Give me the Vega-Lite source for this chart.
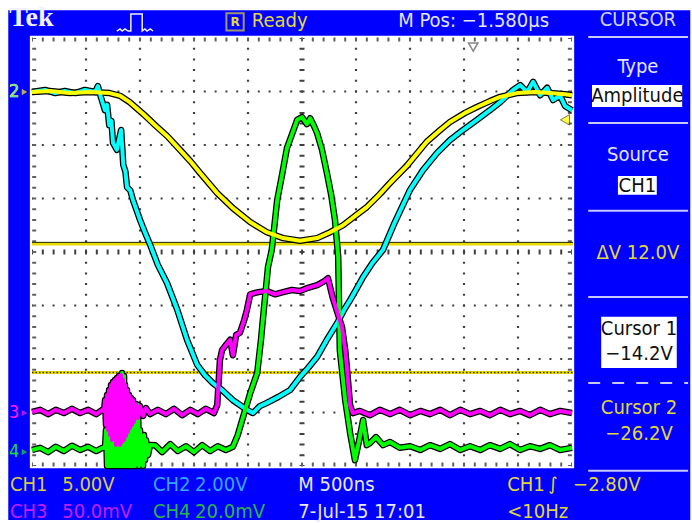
{
"$schema": "https://vega.github.io/schema/vega-lite/v6.json",
"width": 692, "height": 523,
"autosize": {"type": "fit", "contains": "padding"},
"padding": 0,
"background": "white",
"config": {"view": {"stroke": null}, "axis": {"disable": true}, "legend": {"disable": true}},
"data": {"values": [{}]},
"datasets": {
"grid": [{"g": -4}, {"g": -3}, {"g": -2}, {"g": -1}, {"g": 1}, {"g": 2}, {"g": 3}, {"g": 4}],
"gridh": [{"g": -3}, {"g": -2}, {"g": -1}, {"g": 1}, {"g": 2}, {"g": 3}],
"icon": [{"i":0,"t":-3.43,"v":4.13},{"i":1,"t":-3.37,"v":4.17},{"i":2,"t":-3.33,"v":4.13},{"i":3,"t":-3.28,"v":4.17},{"i":4,"t":-3.22,"v":4.13},{"i":5,"t":-3.17,"v":4.13},{"i":6,"t":-3.17,"v":4.45},{"i":7,"t":-2.96,"v":4.45},{"i":8,"t":-2.96,"v":4.13},{"i":9,"t":-2.91,"v":4.17},{"i":10,"t":-2.87,"v":4.13},{"i":11,"t":-2.81,"v":4.17},{"i":12,"t":-2.76,"v":4.13}],
"traces": [
{"c":"CH2","t":-5.00,"v":2.99},{"c":"CH2","t":-4.76,"v":3.03},{"c":"CH2","t":-4.57,"v":2.97},{"c":"CH2","t":-4.39,"v":3.01},{"c":"CH2","t":-4.20,"v":2.97},{"c":"CH2","t":-4.02,"v":3.03},{"c":"CH2","t":-3.83,"v":2.99},{"c":"CH2","t":-3.78,"v":3.10},{"c":"CH2","t":-3.72,"v":2.88},{"c":"CH2","t":-3.65,"v":2.65},{"c":"CH2","t":-3.61,"v":2.75},{"c":"CH2","t":-3.57,"v":2.37},{"c":"CH2","t":-3.53,"v":2.45},{"c":"CH2","t":-3.50,"v":2.04},{"c":"CH2","t":-3.43,"v":1.91},{"c":"CH2","t":-3.35,"v":2.28},{"c":"CH2","t":-3.31,"v":1.63},{"c":"CH2","t":-3.27,"v":1.50},{"c":"CH2","t":-3.24,"v":1.21},{"c":"CH2","t":-3.18,"v":1.15},{"c":"CH2","t":-3.13,"v":0.97},{"c":"CH2","t":-3.00,"v":0.60},{"c":"CH2","t":-2.91,"v":0.37},{"c":"CH2","t":-2.81,"v":0.13},{"c":"CH2","t":-2.67,"v":-0.24},{"c":"CH2","t":-2.50,"v":-0.58},{"c":"CH2","t":-2.31,"v":-1.08},{"c":"CH2","t":-2.13,"v":-1.64},{"c":"CH2","t":-1.94,"v":-2.11},{"c":"CH2","t":-1.80,"v":-2.30},{"c":"CH2","t":-1.65,"v":-2.45},{"c":"CH2","t":-1.48,"v":-2.58},{"c":"CH2","t":-1.28,"v":-2.77},{"c":"CH2","t":-1.15,"v":-2.86},{"c":"CH2","t":-1.02,"v":-2.95},{"c":"CH2","t":-0.91,"v":-3.01},{"c":"CH2","t":-0.78,"v":-2.88},{"c":"CH2","t":-0.65,"v":-2.82},{"c":"CH2","t":-0.44,"v":-2.71},{"c":"CH2","t":-0.22,"v":-2.58},{"c":"CH2","t":-0.04,"v":-2.34},{"c":"CH2","t":0.11,"v":-2.17},{"c":"CH2","t":0.28,"v":-1.96},{"c":"CH2","t":0.46,"v":-1.64},{"c":"CH2","t":0.65,"v":-1.33},{"c":"CH2","t":0.78,"v":-1.08},{"c":"CH2","t":0.89,"v":-0.90},{"c":"CH2","t":1.02,"v":-0.67},{"c":"CH2","t":1.13,"v":-0.47},{"c":"CH2","t":1.30,"v":-0.21},{"c":"CH2","t":1.50,"v":0.04},{"c":"CH2","t":1.72,"v":0.56},{"c":"CH2","t":2.00,"v":1.16},{"c":"CH2","t":2.24,"v":1.53},{"c":"CH2","t":2.50,"v":1.85},{"c":"CH2","t":2.74,"v":2.09},{"c":"CH2","t":2.98,"v":2.28},{"c":"CH2","t":3.24,"v":2.47},{"c":"CH2","t":3.48,"v":2.65},{"c":"CH2","t":3.67,"v":2.80},{"c":"CH2","t":3.91,"v":3.03},{"c":"CH2","t":4.04,"v":3.12},{"c":"CH2","t":4.17,"v":2.99},{"c":"CH2","t":4.28,"v":3.18},{"c":"CH2","t":4.41,"v":2.93},{"c":"CH2","t":4.54,"v":3.07},{"c":"CH2","t":4.65,"v":2.84},{"c":"CH2","t":4.78,"v":2.92},{"c":"CH2","t":4.87,"v":2.73},{"c":"CH2","t":5.00,"v":2.65},
{"c":"CH4","t":-5.00,"v":-3.70},{"c":"CH4","t":-4.85,"v":-3.66},{"c":"CH4","t":-4.70,"v":-3.74},{"c":"CH4","t":-4.56,"v":-3.64},{"c":"CH4","t":-4.41,"v":-3.72},{"c":"CH4","t":-4.26,"v":-3.62},{"c":"CH4","t":-4.11,"v":-3.70},{"c":"CH4","t":-3.96,"v":-3.64},{"c":"CH4","t":-3.81,"v":-3.72},{"c":"CH4","t":-3.70,"v":-3.66},
{"c":"CH4","t":-3.648,"v":-3.664},{"c":"CH4","t":-3.630,"v":-3.327},{"c":"CH4","t":-3.611,"v":-4.0},{"c":"CH4","t":-3.593,"v":-3.140},{"c":"CH4","t":-3.574,"v":-4.0},{"c":"CH4","t":-3.556,"v":-2.766},{"c":"CH4","t":-3.537,"v":-4.0},{"c":"CH4","t":-3.519,"v":-3.234},{"c":"CH4","t":-3.500,"v":-4.0},{"c":"CH4","t":-3.481,"v":-2.953},{"c":"CH4","t":-3.463,"v":-4.0},{"c":"CH4","t":-3.444,"v":-3.327},{"c":"CH4","t":-3.426,"v":-4.0},{"c":"CH4","t":-3.407,"v":-2.673},{"c":"CH4","t":-3.389,"v":-4.0},{"c":"CH4","t":-3.370,"v":-2.393},{"c":"CH4","t":-3.352,"v":-4.0},{"c":"CH4","t":-3.333,"v":-2.262},{"c":"CH4","t":-3.315,"v":-4.0},{"c":"CH4","t":-3.296,"v":-2.318},{"c":"CH4","t":-3.278,"v":-4.0},{"c":"CH4","t":-3.259,"v":-2.766},{"c":"CH4","t":-3.241,"v":-4.0},{"c":"CH4","t":-3.222,"v":-3.047},{"c":"CH4","t":-3.204,"v":-4.0},{"c":"CH4","t":-3.185,"v":-3.327},{"c":"CH4","t":-3.167,"v":-4.0},{"c":"CH4","t":-3.148,"v":-2.953},{"c":"CH4","t":-3.130,"v":-4.0},{"c":"CH4","t":-3.111,"v":-3.234},{"c":"CH4","t":-3.093,"v":-4.0},{"c":"CH4","t":-3.074,"v":-3.140},{"c":"CH4","t":-3.056,"v":-3.925},{"c":"CH4","t":-3.037,"v":-2.860},{"c":"CH4","t":-3.019,"v":-4.0},{"c":"CH4","t":-3.000,"v":-3.327},{"c":"CH4","t":-2.981,"v":-3.925},{"c":"CH4","t":-2.963,"v":-3.514},{"c":"CH4","t":-2.944,"v":-4.0},{"c":"CH4","t":-2.926,"v":-3.421},{"c":"CH4","t":-2.907,"v":-3.888},{"c":"CH4","t":-2.889,"v":-3.514},{"c":"CH4","t":-2.852,"v":-3.794},{"c":"CH4","t":-2.815,"v":-3.607},
{"c":"CH4","t":-2.72,"v":-3.61},{"c":"CH4","t":-2.59,"v":-3.74},{"c":"CH4","t":-2.44,"v":-3.59},{"c":"CH4","t":-2.30,"v":-3.72},{"c":"CH4","t":-2.15,"v":-3.63},{"c":"CH4","t":-2.00,"v":-3.74},{"c":"CH4","t":-1.85,"v":-3.61},{"c":"CH4","t":-1.70,"v":-3.72},{"c":"CH4","t":-1.56,"v":-3.63},{"c":"CH4","t":-1.41,"v":-3.70},{"c":"CH4","t":-1.28,"v":-3.64},{"c":"CH4","t":-1.19,"v":-3.42},{"c":"CH4","t":-1.09,"v":-3.08},{"c":"CH4","t":-0.96,"v":-2.64},{"c":"CH4","t":-0.83,"v":-2.26},{"c":"CH4","t":-0.76,"v":-1.64},{"c":"CH4","t":-0.72,"v":-1.21},{"c":"CH4","t":-0.63,"v":-0.28},{"c":"CH4","t":-0.56,"v":0.04},{"c":"CH4","t":-0.46,"v":0.97},{"c":"CH4","t":-0.37,"v":1.44},{"c":"CH4","t":-0.28,"v":1.94},{"c":"CH4","t":-0.19,"v":2.19},{"c":"CH4","t":-0.09,"v":2.47},{"c":"CH4","t":0.00,"v":2.52},{"c":"CH4","t":0.09,"v":2.39},{"c":"CH4","t":0.15,"v":2.50},{"c":"CH4","t":0.22,"v":2.36},{"c":"CH4","t":0.28,"v":2.22},{"c":"CH4","t":0.37,"v":1.91},{"c":"CH4","t":0.46,"v":1.48},{"c":"CH4","t":0.54,"v":1.07},{"c":"CH4","t":0.61,"v":0.60},{"c":"CH4","t":0.67,"v":-0.09},{"c":"CH4","t":0.70,"v":-1.83},{"c":"CH4","t":0.80,"v":-2.77},{"c":"CH4","t":0.89,"v":-3.38},{"c":"CH4","t":0.98,"v":-3.89},{"c":"CH4","t":1.06,"v":-3.51},{"c":"CH4","t":1.13,"v":-3.14},{"c":"CH4","t":1.20,"v":-3.61},{"c":"CH4","t":1.26,"v":-3.57},{"c":"CH4","t":1.37,"v":-3.46},{"c":"CH4","t":1.50,"v":-3.61},{"c":"CH4","t":1.63,"v":-3.55},{"c":"CH4","t":1.81,"v":-3.66},{"c":"CH4","t":2.00,"v":-3.63},{"c":"CH4","t":2.19,"v":-3.70},{"c":"CH4","t":2.37,"v":-3.61},{"c":"CH4","t":2.56,"v":-3.68},{"c":"CH4","t":2.74,"v":-3.59},{"c":"CH4","t":2.93,"v":-3.70},{"c":"CH4","t":3.11,"v":-3.63},{"c":"CH4","t":3.30,"v":-3.70},{"c":"CH4","t":3.48,"v":-3.61},{"c":"CH4","t":3.67,"v":-3.68},{"c":"CH4","t":3.85,"v":-3.59},{"c":"CH4","t":4.04,"v":-3.70},{"c":"CH4","t":4.22,"v":-3.63},{"c":"CH4","t":4.41,"v":-3.68},{"c":"CH4","t":4.59,"v":-3.61},{"c":"CH4","t":4.78,"v":-3.70},{"c":"CH4","t":5.00,"v":-3.66},
{"c":"CH3","t":-5.00,"v":-2.99},{"c":"CH3","t":-4.85,"v":-2.95},{"c":"CH3","t":-4.70,"v":-3.03},{"c":"CH3","t":-4.56,"v":-2.95},{"c":"CH3","t":-4.41,"v":-3.01},{"c":"CH3","t":-4.26,"v":-2.93},{"c":"CH3","t":-4.11,"v":-3.01},{"c":"CH3","t":-3.96,"v":-2.95},{"c":"CH3","t":-3.81,"v":-3.03},{"c":"CH3","t":-3.70,"v":-2.95},
{"c":"CH3","t":-3.667,"v":-2.972},{"c":"CH3","t":-3.648,"v":-2.766},{"c":"CH3","t":-3.630,"v":-3.234},{"c":"CH3","t":-3.611,"v":-2.673},{"c":"CH3","t":-3.593,"v":-3.327},{"c":"CH3","t":-3.574,"v":-2.579},{"c":"CH3","t":-3.556,"v":-3.421},{"c":"CH3","t":-3.537,"v":-2.486},{"c":"CH3","t":-3.519,"v":-3.514},{"c":"CH3","t":-3.500,"v":-2.430},{"c":"CH3","t":-3.481,"v":-3.477},{"c":"CH3","t":-3.463,"v":-2.393},{"c":"CH3","t":-3.444,"v":-3.607},{"c":"CH3","t":-3.426,"v":-2.355},{"c":"CH3","t":-3.407,"v":-3.514},{"c":"CH3","t":-3.389,"v":-2.318},{"c":"CH3","t":-3.370,"v":-3.607},{"c":"CH3","t":-3.352,"v":-2.299},{"c":"CH3","t":-3.333,"v":-3.551},{"c":"CH3","t":-3.315,"v":-2.393},{"c":"CH3","t":-3.296,"v":-3.514},{"c":"CH3","t":-3.278,"v":-2.486},{"c":"CH3","t":-3.259,"v":-3.439},{"c":"CH3","t":-3.241,"v":-2.579},{"c":"CH3","t":-3.222,"v":-3.364},{"c":"CH3","t":-3.204,"v":-2.673},{"c":"CH3","t":-3.185,"v":-3.290},{"c":"CH3","t":-3.167,"v":-2.729},{"c":"CH3","t":-3.148,"v":-3.234},{"c":"CH3","t":-3.130,"v":-2.766},{"c":"CH3","t":-3.111,"v":-3.178},{"c":"CH3","t":-3.074,"v":-2.841},{"c":"CH3","t":-3.037,"v":-3.103},{"c":"CH3","t":-3.000,"v":-2.879},{"c":"CH3","t":-2.944,"v":-3.065},{"c":"CH3","t":-2.889,"v":-2.916},{"c":"CH3","t":-2.815,"v":-3.028},
{"c":"CH3","t":-2.67,"v":-2.95},{"c":"CH3","t":-2.52,"v":-3.03},{"c":"CH3","t":-2.37,"v":-2.93},{"c":"CH3","t":-2.22,"v":-3.05},{"c":"CH3","t":-2.07,"v":-2.95},{"c":"CH3","t":-1.93,"v":-3.03},{"c":"CH3","t":-1.78,"v":-2.93},{"c":"CH3","t":-1.63,"v":-3.01},{"c":"CH3","t":-1.57,"v":-2.86},{"c":"CH3","t":-1.52,"v":-2.02},{"c":"CH3","t":-1.48,"v":-1.83},{"c":"CH3","t":-1.41,"v":-1.74},{"c":"CH3","t":-1.33,"v":-1.64},{"c":"CH3","t":-1.28,"v":-1.93},{"c":"CH3","t":-1.22,"v":-1.55},{"c":"CH3","t":-1.15,"v":-1.51},{"c":"CH3","t":-1.07,"v":-1.27},{"c":"CH3","t":-1.02,"v":-1.08},{"c":"CH3","t":-0.96,"v":-0.79},{"c":"CH3","t":-0.81,"v":-0.75},{"c":"CH3","t":-0.65,"v":-0.73},{"c":"CH3","t":-0.50,"v":-0.79},{"c":"CH3","t":-0.35,"v":-0.75},{"c":"CH3","t":-0.19,"v":-0.71},{"c":"CH3","t":-0.04,"v":-0.73},{"c":"CH3","t":0.11,"v":-0.67},{"c":"CH3","t":0.28,"v":-0.62},{"c":"CH3","t":0.39,"v":-0.56},{"c":"CH3","t":0.48,"v":-0.49},{"c":"CH3","t":0.57,"v":-0.86},{"c":"CH3","t":0.67,"v":-1.18},{"c":"CH3","t":0.74,"v":-1.40},{"c":"CH3","t":0.80,"v":-1.83},{"c":"CH3","t":0.83,"v":-2.15},{"c":"CH3","t":0.89,"v":-2.86},{"c":"CH3","t":0.94,"v":-3.01},{"c":"CH3","t":1.07,"v":-2.97},{"c":"CH3","t":1.26,"v":-3.05},{"c":"CH3","t":1.44,"v":-2.95},{"c":"CH3","t":1.63,"v":-3.03},{"c":"CH3","t":1.81,"v":-2.95},{"c":"CH3","t":2.00,"v":-3.05},{"c":"CH3","t":2.19,"v":-2.97},{"c":"CH3","t":2.37,"v":-3.03},{"c":"CH3","t":2.56,"v":-2.95},{"c":"CH3","t":2.74,"v":-3.05},{"c":"CH3","t":2.93,"v":-2.95},{"c":"CH3","t":3.11,"v":-3.03},{"c":"CH3","t":3.30,"v":-2.97},{"c":"CH3","t":3.48,"v":-3.05},{"c":"CH3","t":3.67,"v":-2.95},{"c":"CH3","t":3.85,"v":-3.03},{"c":"CH3","t":4.04,"v":-2.97},{"c":"CH3","t":4.22,"v":-3.05},{"c":"CH3","t":4.41,"v":-2.95},{"c":"CH3","t":4.59,"v":-3.03},{"c":"CH3","t":4.78,"v":-2.97},{"c":"CH3","t":5.00,"v":-3.01},
{"c":"CH1","t":-5.00,"v":2.99},{"c":"CH1","t":-4.67,"v":3.01},{"c":"CH1","t":-4.30,"v":2.97},{"c":"CH1","t":-3.93,"v":2.99},{"c":"CH1","t":-3.56,"v":2.97},{"c":"CH1","t":-3.37,"v":2.92},{"c":"CH1","t":-3.19,"v":2.80},{"c":"CH1","t":-2.94,"v":2.58},{"c":"CH1","t":-2.72,"v":2.37},{"c":"CH1","t":-2.50,"v":2.17},{"c":"CH1","t":-2.26,"v":1.91},{"c":"CH1","t":-2.07,"v":1.70},{"c":"CH1","t":-1.89,"v":1.48},{"c":"CH1","t":-1.57,"v":1.10},{"c":"CH1","t":-1.28,"v":0.82},{"c":"CH1","t":-0.96,"v":0.56},{"c":"CH1","t":-0.65,"v":0.37},{"c":"CH1","t":-0.35,"v":0.26},{"c":"CH1","t":-0.04,"v":0.21},{"c":"CH1","t":0.28,"v":0.26},{"c":"CH1","t":0.52,"v":0.37},{"c":"CH1","t":0.76,"v":0.50},{"c":"CH1","t":0.98,"v":0.67},{"c":"CH1","t":1.20,"v":0.84},{"c":"CH1","t":1.44,"v":1.08},{"c":"CH1","t":1.63,"v":1.29},{"c":"CH1","t":1.94,"v":1.61},{"c":"CH1","t":2.31,"v":2.06},{"c":"CH1","t":2.56,"v":2.28},{"c":"CH1","t":2.74,"v":2.43},{"c":"CH1","t":3.02,"v":2.60},{"c":"CH1","t":3.24,"v":2.71},{"c":"CH1","t":3.48,"v":2.82},{"c":"CH1","t":3.67,"v":2.90},{"c":"CH1","t":3.98,"v":2.97},{"c":"CH1","t":4.31,"v":2.99},{"c":"CH1","t":4.59,"v":2.97},{"c":"CH1","t":4.87,"v":2.95},{"c":"CH1","t":5.00,"v":2.93}
]
},
"layer": [
{"mark": {"type": "rect", "fill": "#0000FF"},
 "encoding": {"x": {"datum": -5.44, "type": "quantitative", "scale": {"domain": [-5.593, 7.222], "nice": false, "zero": false}, "axis": null}, "x2": {"datum": 7.19},
  "y": {"datum": 4.52, "type": "quantitative", "scale": {"domain": [-5.065, 4.71], "nice": false, "zero": false}, "axis": null}, "y2": {"datum": -5.01}}},
{"mark": {"type": "rect", "fill": "#FFFFFF"},
 "encoding": {"x": {"datum": -5.04}, "x2": {"datum": 5.04}, "y": {"datum": 4.04}, "y2": {"datum": -4.04}}},
{"data": {"name": "grid"}, "mark": {"type": "rule", "stroke": "#404040", "strokeWidth": 2.2, "strokeDash": [2, 8.7], "strokeDashOffset": 1},
 "encoding": {"x": {"field": "g", "type": "quantitative"}, "y": {"datum": 4}, "y2": {"datum": -4}}},
{"data": {"name": "gridh"}, "mark": {"type": "rule", "stroke": "#404040", "strokeWidth": 2.2, "strokeDash": [2, 8.8], "strokeDashOffset": 1},
 "encoding": {"y": {"field": "g", "type": "quantitative"}, "x": {"datum": -5}, "x2": {"datum": 5}}},
{"mark": {"type": "rule", "stroke": "#404040", "strokeWidth": 5, "strokeDash": [2, 8.7], "strokeDashOffset": 1},
 "encoding": {"x": {"datum": 0}, "y": {"datum": 4}, "y2": {"datum": -4}}},
{"mark": {"type": "rule", "stroke": "#404040", "strokeWidth": 5, "strokeDash": [2, 8.8], "strokeDashOffset": 1},
 "encoding": {"y": {"datum": 0}, "x": {"datum": -5}, "x2": {"datum": 5}}},
{"mark": {"type": "rule", "stroke": "#606060", "strokeWidth": 4, "strokeDash": [2, 8.8], "strokeDashOffset": 1},
 "encoding": {"y": {"datum": 3.97}, "x": {"datum": -5}, "x2": {"datum": 5}}},
{"mark": {"type": "rule", "stroke": "#606060", "strokeWidth": 4, "strokeDash": [2, 8.8], "strokeDashOffset": 1},
 "encoding": {"y": {"datum": -3.97}, "x": {"datum": -5}, "x2": {"datum": 5}}},
{"mark": {"type": "rule", "stroke": "#606060", "strokeWidth": 4, "strokeDash": [2, 8.7], "strokeDashOffset": 1},
 "encoding": {"x": {"datum": -4.96}, "y": {"datum": 4}, "y2": {"datum": -4}}},
{"mark": {"type": "rule", "stroke": "#606060", "strokeWidth": 4, "strokeDash": [2, 8.7], "strokeDashOffset": 1},
 "encoding": {"x": {"datum": 4.96}, "y": {"datum": 4}, "y2": {"datum": -4}}},
{"mark": {"type": "rule", "stroke": "#E8DC00", "strokeWidth": 3},
 "encoding": {"y": {"datum": 0.15}, "x": {"datum": -5}, "x2": {"datum": 5.02}}},
{"mark": {"type": "rule", "stroke": "#222200", "strokeWidth": 1},
 "encoding": {"y": {"datum": 0.18}, "x": {"datum": -5}, "x2": {"datum": 5.02}}},
{"mark": {"type": "rule", "stroke": "#E8DC00", "strokeWidth": 3},
 "encoding": {"y": {"datum": -2.25}, "x": {"datum": -5}, "x2": {"datum": 5.02}}},
{"mark": {"type": "rule", "stroke": "#333300", "strokeWidth": 1.5, "strokeDash": [1.5, 2]},
 "encoding": {"y": {"datum": -2.25}, "x": {"datum": -5}, "x2": {"datum": 5.02}}},
{"data": {"name": "traces"}, "mark": {"type": "line", "stroke": "#000000", "strokeWidth": 6.5, "strokeJoin": "round"},
 "encoding": {"x": {"field": "t", "type": "quantitative"}, "y": {"field": "v", "type": "quantitative"}, "detail": {"field": "c"}}},
{"data": {"name": "traces"}, "mark": {"type": "line", "strokeWidth": 4, "strokeJoin": "round"},
 "encoding": {"x": {"field": "t", "type": "quantitative"}, "y": {"field": "v", "type": "quantitative"},
  "color": {"field": "c", "type": "nominal", "scale": {"domain": ["CH1", "CH2", "CH3", "CH4"], "range": ["#FFFF00", "#00FFFF", "#FF00FF", "#00FF00"]}, "legend": null}}},
{"mark": {"type": "point", "shape": "triangle-left", "filled": true, "fill": "#FFFF00", "stroke": "#444400", "strokeWidth": 1, "size": 110},
 "encoding": {"x": {"datum": 4.87}, "y": {"datum": 2.47}}},
{"mark": {"type": "point", "shape": "triangle-down", "filled": true, "fill": "#FFFFFF", "stroke": "#555555", "strokeWidth": 1.5, "size": 90},
 "encoding": {"x": {"datum": 3.17}, "y": {"datum": 3.83}}},
{"mark": {"type": "text", "text": "2", "font": "DejaVu Sans Condensed, Liberation Sans, sans-serif", "fontSize": 18, "fill": "#00E0FF", "stroke": "#FFFF00", "strokeWidth": 0.6, "align": "center", "baseline": "middle"},
 "encoding": {"x": {"datum": -5.33}, "y": {"datum": 2.99}}},
{"mark": {"type": "point", "shape": "triangle-right", "filled": true, "fill": "#FFFF00", "size": 40},
 "encoding": {"x": {"datum": -5.14}, "y": {"datum": 2.99}}},
{"mark": {"type": "text", "text": "3", "font": "DejaVu Sans Condensed, Liberation Sans, sans-serif", "fontSize": 18, "fill": "#FF20FF", "align": "center", "baseline": "middle"},
 "encoding": {"x": {"datum": -5.33}, "y": {"datum": -3.01}}},
{"mark": {"type": "point", "shape": "triangle-right", "filled": true, "fill": "#FF20FF", "size": 40},
 "encoding": {"x": {"datum": -5.14}, "y": {"datum": -3.01}}},
{"mark": {"type": "text", "text": "4", "font": "DejaVu Sans Condensed, Liberation Sans, sans-serif", "fontSize": 18, "fill": "#20E020", "align": "center", "baseline": "middle"},
 "encoding": {"x": {"datum": -5.33}, "y": {"datum": -3.74}}},
{"mark": {"type": "point", "shape": "triangle-right", "filled": true, "fill": "#20E020", "size": 40},
 "encoding": {"x": {"datum": -5.14}, "y": {"datum": -3.74}}},
{"mark": {"type": "text", "text": "Tek", "font": "Liberation Serif", "fontWeight": "bold", "fontSize": 28, "fill": "#F0F0FF", "align": "left", "baseline": "middle"},
 "encoding": {"x": {"datum": -5.42}, "y": {"datum": 4.37}}},
{"data": {"name": "icon"}, "mark": {"type": "line", "stroke": "#F0F0FF", "strokeWidth": 1.5},
 "encoding": {"x": {"field": "t", "type": "quantitative"}, "y": {"field": "v", "type": "quantitative"}, "order": {"field": "i"}}},
{"mark": {"type": "point", "shape": "square", "filled": false, "stroke": "#E0D838", "strokeWidth": 2, "size": 300},
 "encoding": {"x": {"datum": -1.24}, "y": {"datum": 4.30}}},
{"mark": {"type": "text", "text": "R", "font": "DejaVu Sans, sans-serif", "fontWeight": "bold", "fontSize": 12, "fill": "#E0D838", "align": "center", "baseline": "middle"},
 "encoding": {"x": {"datum": -1.24}, "y": {"datum": 4.29}}},
{"mark": {"type": "text", "text": "Ready", "font": "DejaVu Sans Condensed, Liberation Sans, sans-serif", "fontSize": 20, "fill": "#E0D838", "align": "left", "baseline": "middle"},
 "encoding": {"x": {"datum": -0.93}, "y": {"datum": 4.32}}},
{"mark": {"type": "text", "text": "M Pos: −1.580µs", "font": "DejaVu Sans Condensed, Liberation Sans, sans-serif", "fontSize": 20, "fill": "#E4E4FF", "align": "left", "baseline": "middle"},
 "encoding": {"x": {"datum": 1.78}, "y": {"datum": 4.32}}},
{"mark": {"type": "text", "text": "CURSOR", "font": "DejaVu Sans Condensed, Liberation Sans, sans-serif", "fontSize": 20, "fill": "#D4D4FF", "align": "center", "baseline": "middle"},
 "encoding": {"x": {"datum": 6.22}, "y": {"datum": 4.34}}},
{"mark": {"type": "rule", "stroke": "#C8C8FF", "strokeWidth": 2}, "encoding": {"y": {"datum": 4.02}, "x": {"datum": 5.30}, "x2": {"datum": 7.15}}},
{"mark": {"type": "rule", "stroke": "#C8C8FF", "strokeWidth": 2}, "encoding": {"y": {"datum": 2.41}, "x": {"datum": 5.30}, "x2": {"datum": 7.15}}},
{"mark": {"type": "rule", "stroke": "#C8C8FF", "strokeWidth": 2}, "encoding": {"y": {"datum": 0.77}, "x": {"datum": 5.30}, "x2": {"datum": 7.15}}},
{"mark": {"type": "rule", "stroke": "#C8C8FF", "strokeWidth": 2}, "encoding": {"y": {"datum": -0.84}, "x": {"datum": 5.30}, "x2": {"datum": 7.15}}},
{"mark": {"type": "rule", "stroke": "#C8C8FF", "strokeWidth": 2, "strokeDash": [12, 12]}, "encoding": {"y": {"datum": -2.45}, "x": {"datum": 5.30}, "x2": {"datum": 7.15}}},
{"mark": {"type": "rule", "stroke": "#C8C8FF", "strokeWidth": 2}, "encoding": {"y": {"datum": -4.09}, "x": {"datum": 5.30}, "x2": {"datum": 7.15}}},
{"mark": {"type": "text", "text": "Type", "font": "DejaVu Sans Condensed, Liberation Sans, sans-serif", "fontSize": 20, "fill": "#E4E4FF", "align": "center", "baseline": "middle"},
 "encoding": {"x": {"datum": 6.22}, "y": {"datum": 3.46}}},
{"mark": {"type": "rect", "fill": "#FFFFFF"}, "encoding": {"x": {"datum": 5.37}, "x2": {"datum": 7.04}, "y": {"datum": 3.12}, "y2": {"datum": 2.71}}},
{"mark": {"type": "text", "text": "Amplitude", "font": "DejaVu Sans Condensed, Liberation Sans, sans-serif", "fontSize": 20, "fill": "#101010", "align": "center", "baseline": "middle"},
 "encoding": {"x": {"datum": 6.21}, "y": {"datum": 2.92}}},
{"mark": {"type": "text", "text": "Source", "font": "DejaVu Sans Condensed, Liberation Sans, sans-serif", "fontSize": 20, "fill": "#E4E4FF", "align": "center", "baseline": "middle"},
 "encoding": {"x": {"datum": 6.22}, "y": {"datum": 1.81}}},
{"mark": {"type": "rect", "fill": "#FFFFFF"}, "encoding": {"x": {"datum": 5.85}, "x2": {"datum": 6.57}, "y": {"datum": 1.42}, "y2": {"datum": 1.07}}},
{"mark": {"type": "text", "text": "CH1", "font": "DejaVu Sans Condensed, Liberation Sans, sans-serif", "fontSize": 20, "fill": "#101010", "align": "center", "baseline": "middle"},
 "encoding": {"x": {"datum": 6.21}, "y": {"datum": 1.24}}},
{"mark": {"type": "text", "text": "ΔV 12.0V", "font": "DejaVu Sans Condensed, Liberation Sans, sans-serif", "fontSize": 20, "fill": "#E0D838", "align": "center", "baseline": "middle"},
 "encoding": {"x": {"datum": 6.22}, "y": {"datum": -0.02}}},
{"mark": {"type": "rect", "fill": "#FFFFFF"}, "encoding": {"x": {"datum": 5.54}, "x2": {"datum": 6.94}, "y": {"datum": -1.21}, "y2": {"datum": -2.17}}},
{"mark": {"type": "text", "text": "Cursor 1", "font": "DejaVu Sans Condensed, Liberation Sans, sans-serif", "fontSize": 20, "fill": "#101010", "align": "center", "baseline": "middle"},
 "encoding": {"x": {"datum": 6.24}, "y": {"datum": -1.44}}},
{"mark": {"type": "text", "text": "−14.2V", "font": "DejaVu Sans Condensed, Liberation Sans, sans-serif", "fontSize": 20, "fill": "#101010", "align": "center", "baseline": "middle"},
 "encoding": {"x": {"datum": 6.24}, "y": {"datum": -1.91}}},
{"mark": {"type": "text", "text": "Cursor 2", "font": "DejaVu Sans Condensed, Liberation Sans, sans-serif", "fontSize": 20, "fill": "#E0D838", "align": "center", "baseline": "middle"},
 "encoding": {"x": {"datum": 6.24}, "y": {"datum": -2.92}}},
{"mark": {"type": "text", "text": "−26.2V", "font": "DejaVu Sans Condensed, Liberation Sans, sans-serif", "fontSize": 20, "fill": "#E0D838", "align": "center", "baseline": "middle"},
 "encoding": {"x": {"datum": 6.24}, "y": {"datum": -3.40}}},
{"mark": {"type": "text", "text": "CH1", "font": "DejaVu Sans Condensed, Liberation Sans, sans-serif", "fontSize": 20, "fill": "#D8CC40", "align": "left", "baseline": "middle"},
 "encoding": {"x": {"datum": -5.41}, "y": {"datum": -4.36}}},
{"mark": {"type": "text", "text": "5.00V", "font": "DejaVu Sans Condensed, Liberation Sans, sans-serif", "fontSize": 20, "fill": "#D8CC40", "align": "left", "baseline": "middle"},
 "encoding": {"x": {"datum": -4.44}, "y": {"datum": -4.36}}},
{"mark": {"type": "text", "text": "CH2", "font": "DejaVu Sans Condensed, Liberation Sans, sans-serif", "fontSize": 20, "fill": "#38A8FF", "align": "left", "baseline": "middle"},
 "encoding": {"x": {"datum": -2.76}, "y": {"datum": -4.36}}},
{"mark": {"type": "text", "text": "2.00V", "font": "DejaVu Sans Condensed, Liberation Sans, sans-serif", "fontSize": 20, "fill": "#38A8FF", "align": "left", "baseline": "middle"},
 "encoding": {"x": {"datum": -1.98}, "y": {"datum": -4.36}}},
{"mark": {"type": "text", "text": "M 500ns", "font": "DejaVu Sans Condensed, Liberation Sans, sans-serif", "fontSize": 20, "fill": "#E8E8FF", "align": "left", "baseline": "middle"},
 "encoding": {"x": {"datum": -0.07}, "y": {"datum": -4.36}}},
{"mark": {"type": "text", "text": "CH1", "font": "DejaVu Sans Condensed, Liberation Sans, sans-serif", "fontSize": 20, "fill": "#E0D838", "align": "left", "baseline": "middle"},
 "encoding": {"x": {"datum": 3.80}, "y": {"datum": -4.36}}},
{"mark": {"type": "text", "text": "∫", "font": "DejaVu Sans", "fontSize": 18, "fill": "#E0D838", "align": "left", "baseline": "middle"},
 "encoding": {"x": {"datum": 4.56}, "y": {"datum": -4.36}}},
{"mark": {"type": "text", "text": "−2.80V", "font": "DejaVu Sans Condensed, Liberation Sans, sans-serif", "fontSize": 20, "fill": "#E0D838", "align": "left", "baseline": "middle"},
 "encoding": {"x": {"datum": 5.02}, "y": {"datum": -4.36}}},
{"mark": {"type": "text", "text": "CH3", "font": "DejaVu Sans Condensed, Liberation Sans, sans-serif", "fontSize": 20, "fill": "#C020FF", "align": "left", "baseline": "middle"},
 "encoding": {"x": {"datum": -5.41}, "y": {"datum": -4.86}}},
{"mark": {"type": "text", "text": "50.0mV", "font": "DejaVu Sans Condensed, Liberation Sans, sans-serif", "fontSize": 20, "fill": "#C020FF", "align": "left", "baseline": "middle"},
 "encoding": {"x": {"datum": -4.44}, "y": {"datum": -4.86}}},
{"mark": {"type": "text", "text": "CH4", "font": "DejaVu Sans Condensed, Liberation Sans, sans-serif", "fontSize": 20, "fill": "#28B840", "align": "left", "baseline": "middle"},
 "encoding": {"x": {"datum": -2.76}, "y": {"datum": -4.86}}},
{"mark": {"type": "text", "text": "20.0mV", "font": "DejaVu Sans Condensed, Liberation Sans, sans-serif", "fontSize": 20, "fill": "#28B840", "align": "left", "baseline": "middle"},
 "encoding": {"x": {"datum": -1.98}, "y": {"datum": -4.86}}},
{"mark": {"type": "text", "text": "7-Jul-15 17:01", "font": "DejaVu Sans Condensed, Liberation Sans, sans-serif", "fontSize": 20, "fill": "#E8E8FF", "align": "left", "baseline": "middle"},
 "encoding": {"x": {"datum": -0.07}, "y": {"datum": -4.86}}},
{"mark": {"type": "text", "text": "<10Hz", "font": "DejaVu Sans Condensed, Liberation Sans, sans-serif", "fontSize": 20, "fill": "#E0D838", "align": "left", "baseline": "middle"},
 "encoding": {"x": {"datum": 3.80}, "y": {"datum": -4.86}}}
]
}
